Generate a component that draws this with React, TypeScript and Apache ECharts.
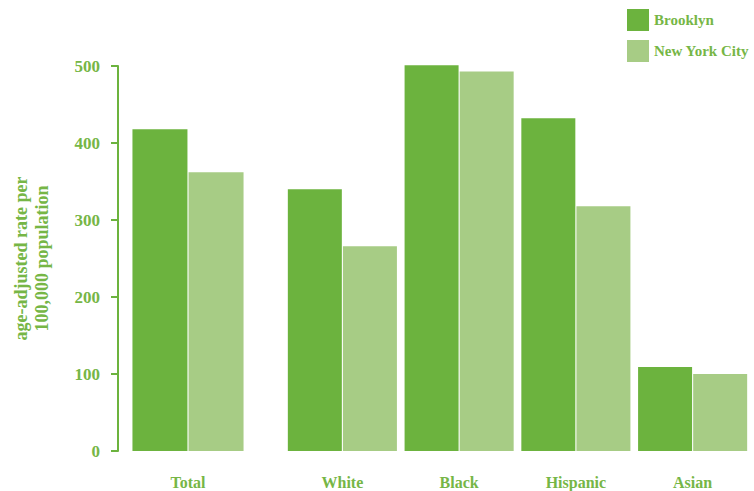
import React, { useEffect, useRef } from "react";
import * as echarts from "echarts";

const firstCategory = ["Total"];
const groupCategories = ["White", "Black", "Hispanic", "Asian"];
const brooklynTotal = [418];
const nycTotal = [362];
const brooklynGroups = [340, 501, 432, 109];
const nycGroups = [266, 493, 318, 100];
const yTicks = [0, 100, 200, 300, 400, 500];

const DARK = "#6cb33e";
const LIGHT = "#a7cc85";
const TEXT = "#76b646";
const FONT = "'Liberation Serif', 'Times New Roman', serif";

export default function App() {
  const ref = useRef<HTMLDivElement>(null);
  useEffect(() => {
    if (!ref.current) return;
    const chart = echarts.init(ref.current, null, { renderer: "svg" });
    const yMin = yTicks[0];
    const yMax = yTicks[yTicks.length - 1];
    const yInterval = yTicks[1] - yTicks[0];
    chart.setOption({
      animation: false,
      legend: {
        data: ["Brooklyn", "New York City"],
        orient: "vertical",
        left: 627,
        top: 9,
        padding: 0,
        itemWidth: 22,
        itemHeight: 22,
        itemGap: 9,
        icon: "rect",
        textStyle: { color: TEXT, fontFamily: FONT, fontWeight: "bold", fontSize: 15 },
      },
      grid: [
        { left: 129, width: 118, top: 66, bottom: 40 },
        { left: 284, right: 3, top: 66, bottom: 40 },
      ],
      xAxis: [
        {
          type: "category",
          gridIndex: 0,
          data: firstCategory,
          axisLine: { show: false },
          axisTick: { show: false },
          axisLabel: { color: TEXT, fontFamily: FONT, fontWeight: "bold", fontSize: 16, margin: 23 },
        },
        {
          type: "category",
          gridIndex: 1,
          data: groupCategories,
          axisLine: { show: false },
          axisTick: { show: false },
          axisLabel: { color: TEXT, fontFamily: FONT, fontWeight: "bold", fontSize: 16, margin: 23 },
        },
      ],
      yAxis: [
        {
          type: "value",
          gridIndex: 0,
          min: yMin,
          max: yMax,
          interval: yInterval,
          offset: 11,
          name: "age-adjusted rate per\n100,000 population",
          nameLocation: "middle",
          nameRotate: 90,
          nameGap: 66,
          nameTextStyle: { color: TEXT, fontFamily: FONT, fontWeight: "bold", fontSize: 18, lineHeight: 21 },
          axisLine: { show: true, lineStyle: { color: DARK, width: 2 } },
          axisTick: { show: true, length: 7, lineStyle: { color: DARK, width: 2 } },
          splitLine: { show: false },
          axisLabel: { color: TEXT, fontFamily: FONT, fontWeight: "bold", fontSize: 17, margin: 18 },
        },
        {
          type: "value",
          gridIndex: 1,
          min: yMin,
          max: yMax,
          interval: yInterval,
          show: false,
          splitLine: { show: false },
        },
      ],
      series: [
        {
          name: "Brooklyn",
          type: "bar",
          xAxisIndex: 0,
          yAxisIndex: 0,
          data: brooklynTotal,
          barWidth: 55,
          barGap: "2%",
          clip: false,
          itemStyle: { color: DARK },
        },
        {
          name: "New York City",
          type: "bar",
          xAxisIndex: 0,
          yAxisIndex: 0,
          data: nycTotal,
          barWidth: 55,
          barGap: "2%",
          clip: false,
          itemStyle: { color: LIGHT },
        },
        {
          name: "Brooklyn",
          type: "bar",
          xAxisIndex: 1,
          yAxisIndex: 1,
          data: brooklynGroups,
          barWidth: 54,
          barGap: "2%",
          clip: false,
          itemStyle: { color: DARK },
        },
        {
          name: "New York City",
          type: "bar",
          xAxisIndex: 1,
          yAxisIndex: 1,
          data: nycGroups,
          barWidth: 54,
          barGap: "2%",
          clip: false,
          itemStyle: { color: LIGHT },
        },
      ],
    });
    return () => chart.dispose();
  }, []);
  return <div ref={ref} style={{ width: 754, height: 491, position: "absolute", left: 0, top: 0 }} />;
}
